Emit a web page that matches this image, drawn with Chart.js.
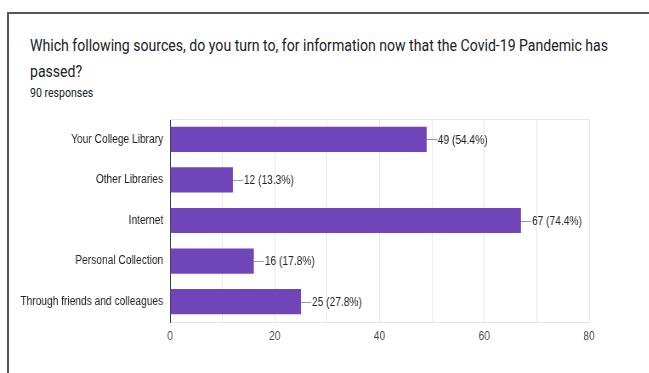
<!DOCTYPE html>
<html>
<head>
<meta charset="utf-8">
<script src="https://cdn.jsdelivr.net/npm/chart.js@4.4.1/dist/chart.umd.min.js"></script>
<style>
  html, body { margin: 0; padding: 0; background: #fff; }
  body { width: 649px; height: 373px; position: relative; overflow: hidden; }
  .frame {
    position: absolute; left: 7px; top: 12px; width: 660px; height: 400px;
    border-top: 2px solid #555; border-left: 2px solid #555;
  }
  .head {
    position: absolute; left: 30px; top: 33px; width: 800px;
    transform: scaleX(0.88); transform-origin: 0 0;
    font-family: Roboto, sans-serif; color: #202124;
  }
  .title { font-size: 16px; line-height: 26px; white-space: nowrap; }
  .sub { font-size: 12px; line-height: 16px; margin-top: 0px; }
  #chart { position: absolute; left: 0; top: 0; transform: scaleX(0.85); transform-origin: 0 0; }
</style>
</head>
<body>
<div class="frame"></div>
<div class="head">
  <div class="title">Which following sources, do you turn to, for information now that the Covid-19 Pandemic has<br>passed?</div>
  <div class="sub">90 responses</div>
</div>
<canvas id="chart" width="764" height="373"></canvas>
<script>
const categories = [
  'Your College Library',
  'Other Libraries',
  'Internet',
  'Personal Collection',
  'Through friends and colleagues',
];
const counts = [49, 12, 67, 16, 25];
const percents = ['54.4%', '13.3%', '74.4%', '17.8%', '27.8%'];
const xTicks = [0, 20, 40, 60, 80];

// the canvas is squeezed to 85% width with CSS, so these are canvas units
const labelFont = { family: "'Liberation Sans', Arial, sans-serif", size: 12 };

const valueLabels = {
  id: 'valueLabels',
  afterDatasetsDraw(chart) {
    const ctx = chart.ctx;
    const meta = chart.getDatasetMeta(0);
    ctx.save();
    ctx.font = `12px ${labelFont.family}`;
    ctx.textBaseline = 'middle';
    ctx.textAlign = 'left';
    meta.data.forEach((bar, i) => {
      ctx.strokeStyle = '#999';
      ctx.lineWidth = 1;
      ctx.beginPath();
      ctx.moveTo(bar.x, Math.round(bar.y) + 0.5);
      ctx.lineTo(bar.x + 12, Math.round(bar.y) + 0.5);
      ctx.stroke();
      ctx.fillStyle = '#222';
      ctx.fillText(`${counts[i]} (${percents[i]})`, bar.x + 13, bar.y + 1);
    });
    ctx.restore();
  },
};

const topLine = {
  id: 'topLine',
  beforeDatasetsDraw(chart) {
    const { ctx, chartArea } = chart;
    ctx.save();
    ctx.strokeStyle = '#e6e6e6';
    ctx.lineWidth = 1;
    ctx.beginPath();
    ctx.moveTo(chartArea.left, chartArea.top + 0.5);
    ctx.lineTo(chartArea.right, chartArea.top + 0.5);
    ctx.stroke();
    ctx.restore();
  },
};

new Chart(document.getElementById('chart'), {
  type: 'bar',
  data: {
    labels: categories,
    datasets: [{
      data: counts,
      backgroundColor: '#7145ba',
      barPercentage: 0.62,
      categoryPercentage: 1,
    }],
  },
  options: {
    indexAxis: 'y',
    responsive: false,
    animation: false,
    events: [],
    layout: { padding: { left: 0, right: 71, top: 119, bottom: 0 } },
    plugins: { legend: { display: false }, tooltip: { enabled: false } },
    scales: {
      x: {
        min: 0,
        max: 80,
        afterFit: scale => { scale.height = 51; },
        afterBuildTicks: scale => {
          scale.ticks = [];
          for (let v = 0; v <= 80; v += 10) scale.ticks.push({ value: v });
        },
        ticks: {
          autoSkip: false,
          maxRotation: 0,
          padding: 7,
          color: '#444',
          font: labelFont,
          callback: v => (xTicks.includes(v) ? v : ''),
        },
        grid: { color: '#e6e6e6', drawTicks: false },
        border: { display: true, color: '#e6e6e6' },
      },
      y: {
        afterFit: scale => { scale.width = 200; },
        ticks: { padding: 8, color: '#222', font: labelFont },
        grid: { display: false, drawTicks: false },
        border: { display: true, color: '#333', width: 1 },
      },
    },
  },
  plugins: [topLine, valueLabels],
});
</script>
</body>
</html>
